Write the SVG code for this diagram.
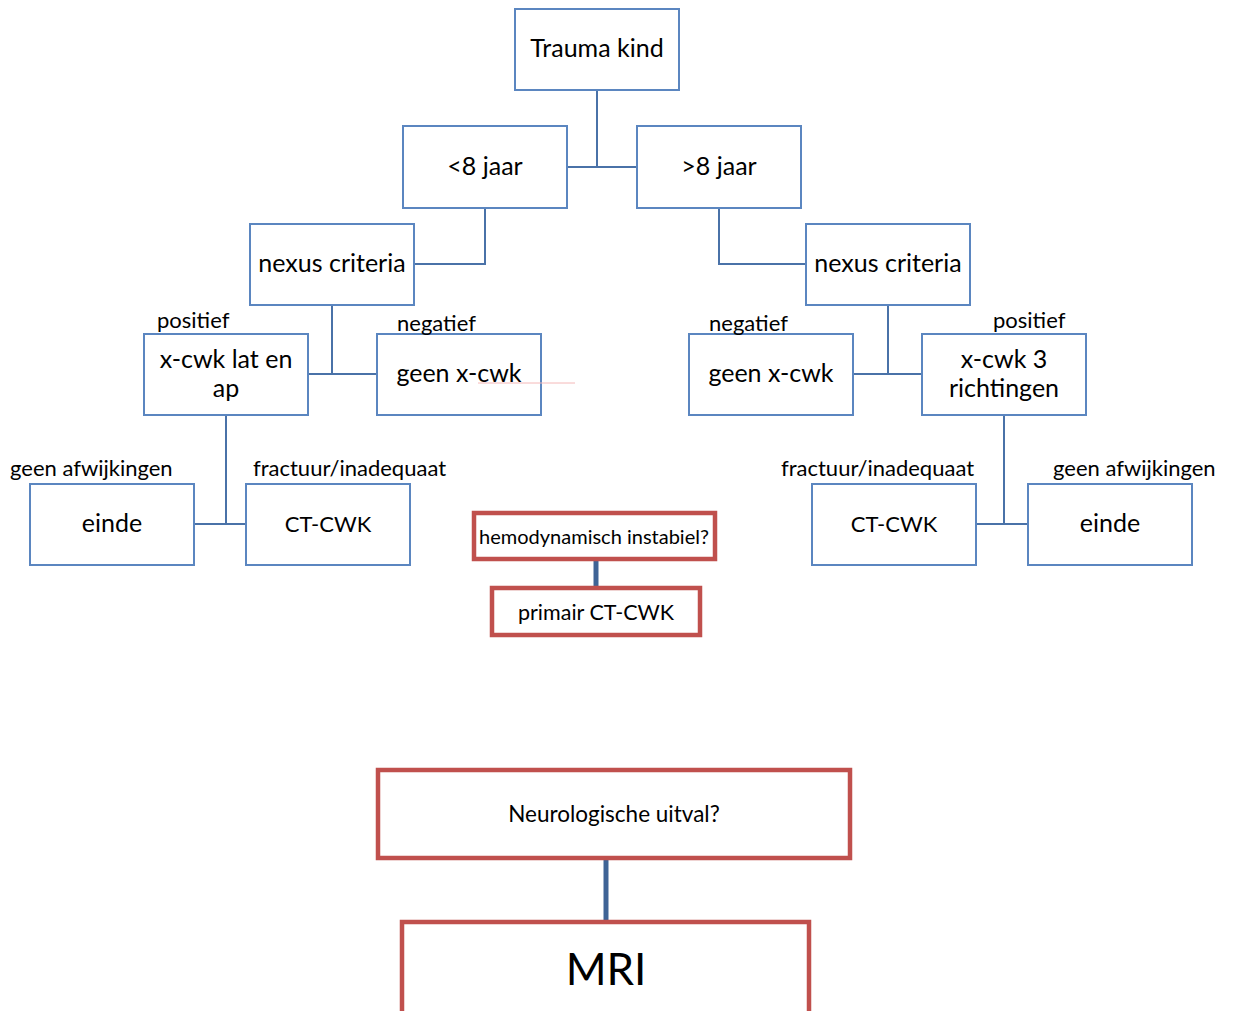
<svg xmlns="http://www.w3.org/2000/svg" width="1236" height="1011" viewBox="0 0 1236 1011">
<style>
.b{fill:#fff;stroke:#5b86c0;stroke-width:2}
.r{fill:#fff;stroke:#c0504d;stroke-width:4.5}
.t{font-family:Lato,"Open Sans",sans-serif;font-size:25px;fill:#000;text-anchor:middle}
.l{font-family:Lato,"Open Sans",sans-serif;font-size:22px;fill:#000}
.c{fill:none;stroke:#4a72a8;stroke-width:2}
.ct{fill:none;stroke:#3f6496;stroke-width:5}
</style>
<rect width="1236" height="1011" fill="#fff"/>
<g id="connectors">
<path class="c" d="M597 90V167M567 167H637"/>
<path class="c" d="M485 208V264H414"/>
<path class="c" d="M719 208V264H806"/>
<path class="c" d="M332 305V374M308 374H377"/>
<path class="c" d="M888 305V374M853 374H922"/>
<path class="c" d="M226 415V524M194 524H246"/>
<path class="c" d="M1004 415V524M976 524H1028"/>
<path class="ct" d="M596 559V588"/>
<path class="ct" d="M606 858V922"/>
</g>
<g id="n-trauma"><rect class="b" x="515" y="9" width="164" height="81"/><text class="t" x="597" y="57">Trauma kind</text></g>
<g id="n-lt8"><rect class="b" x="403" y="126" width="164" height="82"/><text class="t" x="485" y="175">&lt;8 jaar</text></g>
<g id="n-gt8"><rect class="b" x="637" y="126" width="164" height="82"/><text class="t" x="719" y="175">&gt;8 jaar</text></g>
<g id="n-nexus-l"><rect class="b" x="250" y="224" width="164" height="81"/><text class="t" x="332" y="272">nexus criteria</text></g>
<g id="n-nexus-r"><rect class="b" x="806" y="224" width="164" height="81"/><text class="t" x="888" y="272">nexus criteria</text></g>
<g id="n-xlat"><rect class="b" x="144" y="334" width="164" height="81"/><text class="t" x="226" y="368">x-cwk lat en</text><text class="t" x="226" y="397">ap</text></g>
<g id="n-geen-l"><rect class="b" x="377" y="334" width="164" height="81"/><text class="t" x="459" y="382">geen x-cwk</text><line x1="478" y1="383" x2="575" y2="383" stroke="#f4b8b8" stroke-width="1"/></g>
<g id="n-geen-r"><rect class="b" x="689" y="334" width="164" height="81"/><text class="t" x="771" y="382">geen x-cwk</text></g>
<g id="n-x3"><rect class="b" x="922" y="334" width="164" height="81"/><text class="t" x="1004" y="368">x-cwk 3</text><text class="t" x="1004" y="397">richtingen</text></g>
<g id="n-einde-l"><rect class="b" x="30" y="484" width="164" height="81"/><text class="t" x="112" y="532">einde</text></g>
<g id="n-ct-l"><rect class="b" x="246" y="484" width="164" height="81"/><text class="t" x="328" y="532" style="font-size:22px">CT-CWK</text></g>
<g id="n-ct-r"><rect class="b" x="812" y="484" width="164" height="81"/><text class="t" x="894" y="532" style="font-size:22px">CT-CWK</text></g>
<g id="n-einde-r"><rect class="b" x="1028" y="484" width="164" height="81"/><text class="t" x="1110" y="532">einde</text></g>
<g id="labels">
<text class="l" x="157" y="328">positief</text>
<text class="l" x="397" y="331">negatief</text>
<text class="l" x="709" y="331">negatief</text>
<text class="l" x="993" y="328">positief</text>
<text class="l" x="10" y="476">geen afwijkingen</text>
<text class="l" x="253" y="476">fractuur/inadequaat</text>
<text class="l" x="781" y="476">fractuur/inadequaat</text>
<text class="l" x="1053" y="476">geen afwijkingen</text>
</g>
<g id="n-hemo"><rect class="r" x="474" y="513" width="241" height="46"/><text class="t" x="594" y="544" style="font-size:20px">hemodynamisch instabiel?</text></g>
<g id="n-primair"><rect class="r" x="492" y="588" width="208" height="47"/><text class="t" x="596" y="620" style="font-size:21.5px">primair CT-CWK</text></g>
<g id="n-neuro"><rect class="r" x="378" y="770" width="472" height="88"/><text class="t" x="614" y="822" style="font-size:22.5px">Neurologische uitval?</text></g>
<g id="n-mri"><rect class="r" x="402" y="922" width="407" height="120"/><text class="t" x="606" y="985" style="font-size:44px">MRI</text></g>
</svg>
